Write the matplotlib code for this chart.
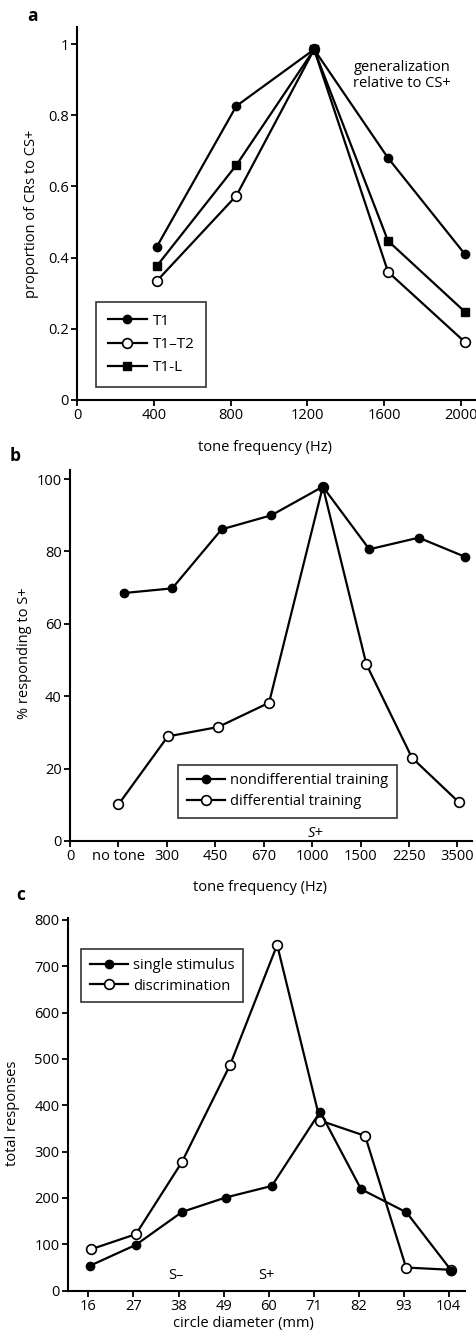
import matplotlib
matplotlib.use("Agg")
import matplotlib.pyplot as plt

plt.rcParams['font.family'] = ['Open Sans', 'DejaVu Sans']
plt.rcParams['font.size'] = 10

# panel a: proportion of CRs to CS+
a_freq = [415, 830, 1235, 1620, 2020]
a_t1 = [0.43, 0.826, 0.985, 0.68, 0.41]
a_t1t2 = [0.334, 0.574, 0.985, 0.36, 0.163]
a_t1l = [0.376, 0.66, 0.985, 0.447, 0.248]
a_ticks = [0, 400, 800, 1200, 1600, 2000]

# panel b: % responding to S+ (categorical tone positions)
b_labels = ["0", "no tone", "300", "450", "670", "1000", "1500", "2250", "3500"]
b_x_nondiff = [1.11, 2.11, 3.13, 4.16, 5.22, 6.18, 7.2, 8.16]
b_nondiff = [68.5, 69.8, 86.1, 90.0, 97.9, 80.6, 83.8, 78.5]
b_x_diff = [1.0, 2.02, 3.06, 4.11, 5.22, 6.12, 7.06, 8.03]
b_diff = [10.1, 28.9, 31.5, 38.2, 97.9, 48.8, 23.0, 10.7]

# panel c: total responses
c_ticks = [16, 27, 38, 49, 60, 71, 82, 93, 104]
c_x_single = [16.4, 27.6, 38.9, 49.5, 60.8, 72.6, 82.6, 93.7, 104.7]
c_single = [54, 99, 170, 201, 226, 386, 219, 169, 43]
c_x_discr = [16.5, 27.6, 38.8, 50.6, 62.1, 72.6, 83.6, 93.6, 104.7]
c_discr = [89, 122, 277, 487, 746, 367, 334, 50, 45]

W, H = 476, 1343
fig = plt.figure(figsize=(W / 100, H / 100), dpi=100)
TXT = 10.5


def px_axes(left, bottom, right, top):
    return fig.add_axes([left / W, 1 - bottom / H, (right - left) / W, (bottom - top) / H])


def style(ax):
    for s in ['top', 'right']:
        ax.spines[s].set_visible(False)
    for s in ['left', 'bottom']:
        ax.spines[s].set_linewidth(1.5)
    ax.tick_params(direction='out', length=4, width=1.3, labelsize=TXT, pad=2)


filled = dict(color='black', lw=1.6, marker='o', ms=6, mfc='black', mec='black')
hollow = dict(color='black', lw=1.6, marker='o', ms=7, mfc='white', mec='black', mew=1.2)
square = dict(color='black', lw=1.6, marker='s', ms=6, mfc='black', mec='black')
leg_kw = dict(frameon=True, fancybox=False, edgecolor='black', handlelength=2.6,
              handletextpad=0.35, borderaxespad=0)

# ---- a ----
ax = px_axes(77, 400, 475, 27)
style(ax)
ax.plot(a_freq, a_t1t2, label='T1–T2', zorder=3, **hollow)
ax.plot(a_freq, a_t1l, label='T1-L', zorder=3, **square)
ax.plot(a_freq, a_t1, label='T1', zorder=4, **filled)
ax.set_xlim(0, 2073)
ax.set_ylim(0, 1.048)
ax.set_xticks(a_ticks)
ax.set_yticks([0, 0.2, 0.4, 0.6, 0.8, 1])
ax.set_yticklabels(["0", "0.2", "0.4", "0.6", "0.8", "1"])
ax.set_xlabel("tone frequency (Hz)", fontsize=TXT)
ax.set_ylabel("proportion of CRs to CS+", fontsize=TXT)
ax.xaxis.set_label_coords(0.472, -0.107)
ax.yaxis.set_label_coords(-0.095, 0.5)
ax.text(1440, 0.955, "generalization\nrelative to CS+", ha='left', va='top',
        fontsize=TXT, linespacing=1.05)
h, l = ax.get_legend_handles_labels()
leg = ax.legend([h[2], h[0], h[1]], [l[2], l[0], l[1]], loc='lower left',
                bbox_to_anchor=(0.048, 0.035), fontsize=11, borderpad=0.75,
                labelspacing=0.55, **leg_kw)
leg.get_frame().set_linewidth(1.2)
fig.text(27 / W, 1 - 16 / H, "a", fontsize=12.5, fontweight='bold', va='center')

# ---- b ----
ax = px_axes(70, 841, 472, 470)
style(ax)
ax.plot(b_x_diff, b_diff, label='differential training', zorder=3, **hollow)
ax.plot(b_x_nondiff, b_nondiff, label='nondifferential training', zorder=4, **filled)
ax.set_xlim(0, 8.3)
ax.set_ylim(0, 102.5)
ax.set_xticks(range(len(b_labels)))
ax.set_xticklabels(b_labels)
ax.set_yticks([0, 20, 40, 60, 80, 100])
ax.set_xlabel("tone frequency (Hz)", fontsize=TXT)
ax.set_ylabel("% responding to S+", fontsize=TXT)
ax.xaxis.set_label_coords(0.473, -0.105)
ax.yaxis.set_label_coords(-0.095, 0.507)
ax.text(5.08, 2.0, "S+", ha='center', va='center', fontsize=TXT, style='italic')
h, l = ax.get_legend_handles_labels()
leg = ax.legend([h[1], h[0]], [l[1], l[0]], loc='lower left',
                bbox_to_anchor=(0.269, 0.062), fontsize=10.5, borderpad=0.6,
                labelspacing=0.4, **leg_kw)
leg.get_frame().set_linewidth(1.2)
fig.text(10 / W, 1 - 456 / H, "b", fontsize=12.5, fontweight='bold', va='center')

# ---- c ----
ax = px_axes(68, 1290.7, 465, 918)
style(ax)
ax.plot(c_x_discr, c_discr, label='discrimination', zorder=3, **hollow)
ax.plot(c_x_single, c_single, label='single stimulus', zorder=4, **filled)
ax.set_xlim(11, 108)
ax.set_ylim(0, 804)
ax.set_xticks(c_ticks)
ax.set_yticks(range(0, 801, 100))
ax.set_xlabel("circle diameter (mm)", fontsize=TXT)
ax.set_ylabel("total responses", fontsize=TXT)
ax.xaxis.set_label_coords(0.443, -0.068)
ax.yaxis.set_label_coords(-0.121, 0.477)
ax.text(37.4, 32, "S–", ha='center', va='center', fontsize=TXT)
ax.text(59.4, 32, "S+", ha='center', va='center', fontsize=TXT)
h, l = ax.get_legend_handles_labels()
leg = ax.legend([h[1], h[0]], [l[1], l[0]], loc='upper left',
                bbox_to_anchor=(0.033, 0.917), fontsize=10.5, borderpad=0.6,
                labelspacing=0.4, **leg_kw)
leg.get_frame().set_linewidth(1.2)
fig.text(16 / W, 1 - 895 / H, "c", fontsize=12.5, fontweight='bold', va='center')

fig.savefig("out.png", dpi=100)
